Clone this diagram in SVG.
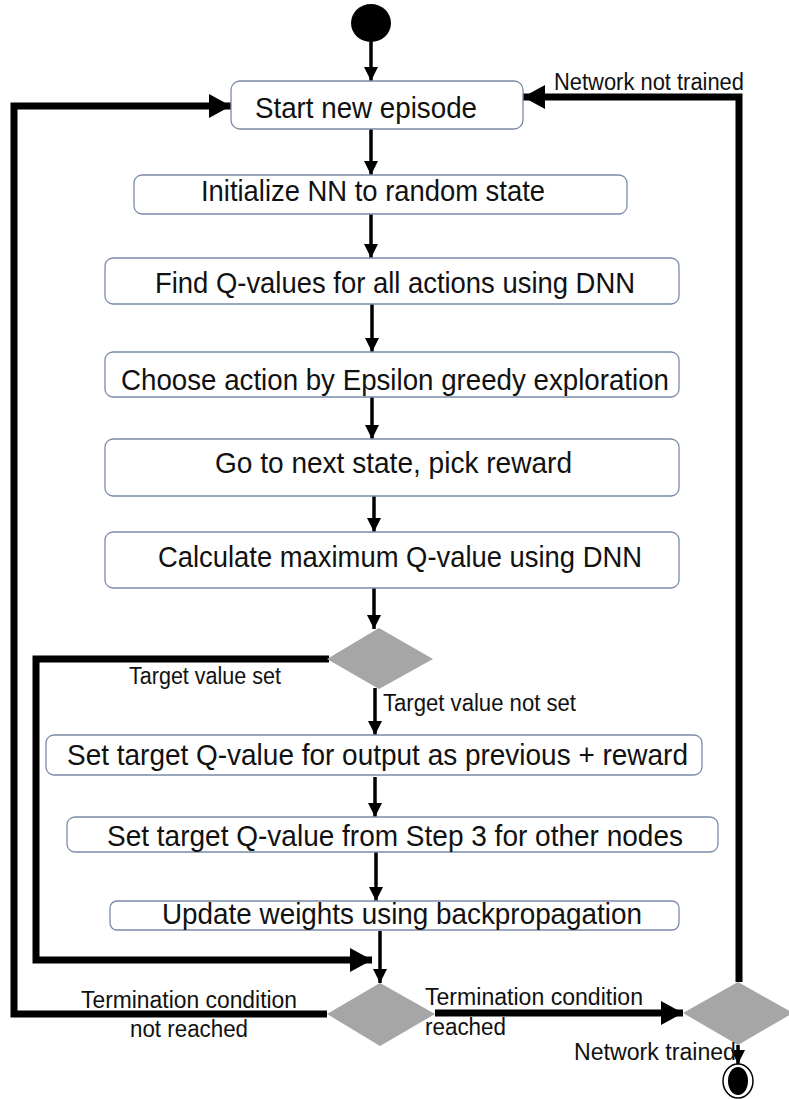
<svg xmlns="http://www.w3.org/2000/svg" width="789" height="1099" viewBox="0 0 789 1099">
<defs>
<style>
.box{fill:#fff;stroke:#7b8ba8;stroke-width:1.3}
.bt{font-family:"Liberation Sans",Arial,sans-serif;font-size:29.5px;fill:#111;text-anchor:middle}
.lb{font-family:"Liberation Sans",Arial,sans-serif;font-size:23px;fill:#111}
.dia{fill:#a6a6a6;stroke:none}
.thin{fill:none;stroke:#000;stroke-width:3.5}
.thick{fill:none;stroke:#000;stroke-width:7;stroke-linejoin:miter}
</style>
<marker id="ah" markerUnits="userSpaceOnUse" markerWidth="14" markerHeight="14" refX="14" refY="7" orient="auto">
<path d="M0,0 L14,7 L0,14 z" fill="#000"/>
</marker>
<marker id="AH" markerUnits="userSpaceOnUse" markerWidth="22" markerHeight="24" refX="22" refY="12" orient="auto">
<path d="M0,0 L22,12 L0,24 z" fill="#000"/>
</marker>
</defs>
<rect width="789" height="1099" fill="#fff"/>

<g id="connectors">
<line class="thin" x1="371" y1="40" x2="371" y2="81" marker-end="url(#ah)"/>
<line class="thin" x1="371" y1="129" x2="371" y2="175" marker-end="url(#ah)"/>
<line class="thin" x1="371" y1="214" x2="371" y2="258" marker-end="url(#ah)"/>
<line class="thin" x1="372" y1="304" x2="372" y2="352" marker-end="url(#ah)"/>
<line class="thin" x1="372" y1="393" x2="372" y2="439" marker-end="url(#ah)"/>
<line class="thin" x1="374" y1="496" x2="374" y2="532" marker-end="url(#ah)"/>
<line class="thin" x1="374" y1="588" x2="374" y2="629" marker-end="url(#ah)"/>
<line class="thin" x1="375" y1="688" x2="375" y2="735" marker-end="url(#ah)"/>
<line class="thin" x1="375" y1="777" x2="375" y2="817" marker-end="url(#ah)"/>
<line class="thin" x1="376" y1="852" x2="376" y2="901" marker-end="url(#ah)"/>
<line class="thin" x1="380" y1="931" x2="380" y2="983" marker-end="url(#ah)"/>
<line class="thin" x1="738" y1="1045" x2="738" y2="1064" marker-end="url(#ah)"/>
<polyline class="thick" points="329,659 36,659 36,960 372,960" marker-end="url(#AH)"/>
<polyline class="thick" points="327,1014 14,1014 14,106 231,106" marker-end="url(#AH)"/>
<line class="thick" x1="435" y1="1013" x2="683" y2="1013" marker-end="url(#AH)"/>
<polyline class="thick" points="739,982 739,97 523,97" marker-end="url(#AH)"/>
</g>

<g id="start"><ellipse cx="371" cy="23" rx="20" ry="19" fill="#000"/></g>

<g id="n1"><rect class="box" x="231" y="81" width="292" height="48" rx="9"/>
<text class="bt" x="366" y="118" textLength="222" lengthAdjust="spacingAndGlyphs">Start new episode</text></g>
<g id="n2"><rect class="box" x="134" y="175" width="493" height="39" rx="8"/>
<text class="bt" x="373" y="201" textLength="344" lengthAdjust="spacingAndGlyphs">Initialize NN to random state</text></g>
<g id="n3"><rect class="box" x="105" y="258" width="574" height="46" rx="8"/>
<text class="bt" x="395" y="293" textLength="480" lengthAdjust="spacingAndGlyphs">Find Q-values for all actions using DNN</text></g>
<g id="n4"><rect class="box" x="105" y="352" width="574" height="45" rx="8"/>
<text class="bt" x="395" y="390" textLength="548" lengthAdjust="spacingAndGlyphs">Choose action by Epsilon greedy exploration</text></g>
<g id="n5"><rect class="box" x="105" y="439" width="574" height="57" rx="8"/>
<text class="bt" x="393.5" y="473" textLength="357" lengthAdjust="spacingAndGlyphs">Go to next state, pick reward</text></g>
<g id="n6"><rect class="box" x="105" y="532" width="574" height="56" rx="8"/>
<text class="bt" x="400" y="567" textLength="484" lengthAdjust="spacingAndGlyphs">Calculate maximum Q-value using DNN</text></g>

<g id="d1"><polygon class="dia" points="379,628 433,659 379,689 327,659"/></g>
<g id="lbl1"><text class="lb" x="129" y="684" textLength="152" lengthAdjust="spacingAndGlyphs">Target value set</text>
<text class="lb" x="383" y="711" textLength="193" lengthAdjust="spacingAndGlyphs">Target value not set</text></g>

<g id="n7"><rect class="box" x="46" y="735" width="656" height="40" rx="8"/>
<text class="bt" x="377.5" y="765" textLength="621" lengthAdjust="spacingAndGlyphs">Set target Q-value for output as previous + reward</text></g>
<g id="n8"><rect class="box" x="67" y="817" width="651" height="35" rx="8"/>
<text class="bt" x="395" y="846" textLength="576" lengthAdjust="spacingAndGlyphs">Set target Q-value from Step 3 for other nodes</text></g>
<g id="n9"><rect class="box" x="110" y="901" width="569" height="29" rx="7"/>
<text class="bt" x="402" y="924" textLength="480" lengthAdjust="spacingAndGlyphs">Update weights using backpropagation</text></g>

<g id="d2"><polygon class="dia" points="380,983 435,1014 380,1046 327,1014"/></g>
<g id="d3"><polygon class="dia" points="738,982 793,1013 738,1045 683,1013"/></g>

<g id="labels">
<text class="lb" x="554" y="90" textLength="190" lengthAdjust="spacingAndGlyphs">Network not trained</text>
<text class="lb" x="81" y="1008" textLength="216" lengthAdjust="spacingAndGlyphs">Termination condition</text>
<text class="lb" x="130" y="1037" textLength="118" lengthAdjust="spacingAndGlyphs">not reached</text>
<text class="lb" x="425" y="1005" textLength="218" lengthAdjust="spacingAndGlyphs">Termination condition</text>
<text class="lb" x="425" y="1035" textLength="81" lengthAdjust="spacingAndGlyphs">reached</text>
<text class="lb" x="574" y="1060" textLength="162" lengthAdjust="spacingAndGlyphs">Network trained</text>
</g>

<g id="end"><ellipse cx="738" cy="1081" rx="15" ry="17" fill="#fff" stroke="#000" stroke-width="1.5"/>
<ellipse cx="738" cy="1081" rx="10" ry="14" fill="#000"/></g>
</svg>
